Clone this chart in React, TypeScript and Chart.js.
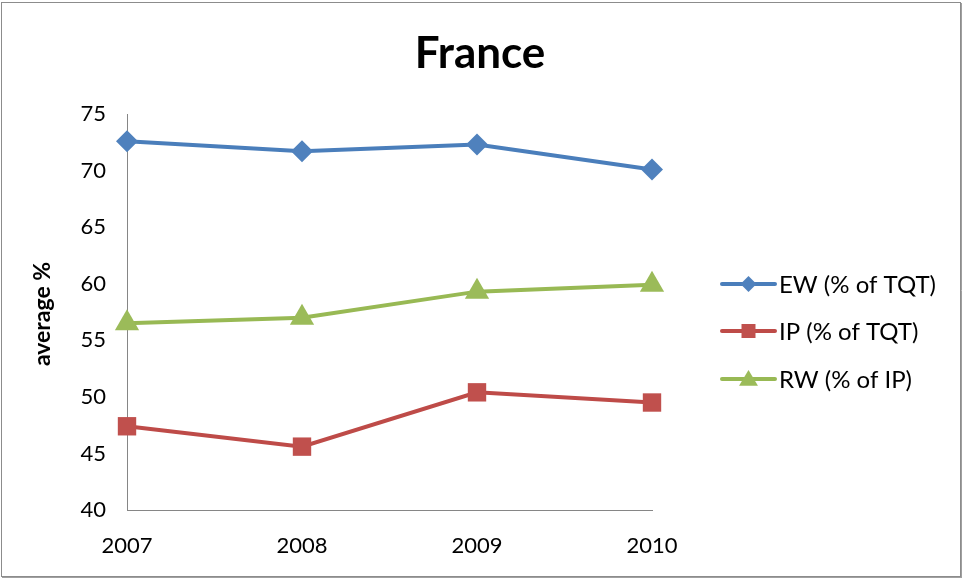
import React, { useEffect, useRef } from "react";
import { Chart, registerables } from "chart.js";

Chart.register(...registerables);

const years = ["2007", "2008", "2009", "2010"];
const ewValues = [72.6, 71.7, 72.3, 70.1];
const ipValues = [47.4, 45.6, 50.4, 49.5];
const rwValues = [56.5, 57.0, 59.3, 59.9];
const yTicks = [40, 45, 50, 55, 60, 65, 70, 75];
const seriesLabels = ["EW (% of TQT)", "IP (% of TQT)", "RW (% of IP)"];
const chartTitle = "France";
const yAxisTitle = "average %";

const BLUE = "#4A7EBB";
const RED = "#BE4B48";
const GREEN = "#98B954";
const BLUE_M = "#4F81BD";
const RED_M = "#C0504D";
const GREEN_M = "#9BBB59";
const FONT = "Lato, 'Open Sans', sans-serif";

function drawMarker(ctx: CanvasRenderingContext2D, kind: string, x: number, y: number, s: number, color: string) {
  ctx.save();
  ctx.fillStyle = color;
  ctx.beginPath();
  if (kind === "diamond") {
    ctx.moveTo(x, y - s);
    ctx.lineTo(x + s, y);
    ctx.lineTo(x, y + s);
    ctx.lineTo(x - s, y);
  } else if (kind === "square") {
    ctx.rect(x - s, y - s, 2 * s, 2 * s);
  } else {
    ctx.moveTo(x, y - s);
    ctx.lineTo(x + s * 1.05, y + s * 0.75);
    ctx.lineTo(x - s * 1.05, y + s * 0.75);
  }
  ctx.closePath();
  ctx.fill();
  ctx.restore();
}

const decorPlugin = {
  id: "decor",
  afterDraw(chart: any) {
    const ctx: CanvasRenderingContext2D = chart.ctx;
    const area = chart.chartArea;
    ctx.save();
    // border
    ctx.strokeStyle = "#8C8C8C";
    ctx.lineWidth = 1;
    ctx.strokeRect(1.5, 2.5, 959, 574);
    ctx.strokeStyle = "#A0A0A0";
    ctx.beginPath();
    ctx.moveTo(961.5, 3);
    ctx.lineTo(961.5, 578);
    ctx.moveTo(2, 577.5);
    ctx.lineTo(962, 577.5);
    ctx.stroke();

    // title
    ctx.fillStyle = "#000";
    ctx.font = `bold 44px ${FONT}`;
    ctx.textAlign = "center";
    ctx.textBaseline = "alphabetic";
    ctx.fillText(chartTitle, 480, 68);

    // y axis title
    ctx.save();
    ctx.translate(50, (area.top + area.bottom) / 2 + 2);
    ctx.rotate(-Math.PI / 2);
    ctx.font = `bold 23px ${FONT}`;
    ctx.textAlign = "center";
    ctx.textBaseline = "alphabetic";
    ctx.fillText(yAxisTitle, 0, 0);
    ctx.restore();

    // legend
    const items = [
      { label: seriesLabels[0], line: BLUE, fill: BLUE_M, kind: "diamond", s: 8 },
      { label: seriesLabels[1], line: RED, fill: RED_M, kind: "square", s: 7 },
      { label: seriesLabels[2], line: GREEN, fill: GREEN_M, kind: "triangle", s: 9 },
    ];
    const ys = [284, 331, 379];
    items.forEach((it, i) => {
      const y = ys[i];
      ctx.strokeStyle = it.line;
      ctx.lineWidth = 4;
      ctx.lineCap = "round";
      ctx.beginPath();
      ctx.moveTo(722, y);
      ctx.lineTo(775, y);
      ctx.stroke();
      drawMarker(ctx, it.kind, 748.5, y, it.s, it.fill);
      ctx.fillStyle = "#000";
      ctx.font = `24px ${FONT}`;
      ctx.textAlign = "left";
      ctx.textBaseline = "middle";
      ctx.fillText(it.label, 779, y + 1);
    });
    ctx.restore();
  },
};

export default function App() {
  const canvasRef = useRef<HTMLCanvasElement | null>(null);

  useEffect(() => {
    if (!canvasRef.current) return;
    const chart = new Chart(canvasRef.current, {
      type: "line",
      data: {
        labels: years,
        datasets: [
          {
            label: seriesLabels[0],
            data: ewValues,
            borderColor: BLUE,
            backgroundColor: BLUE_M,
            borderWidth: 4,
            pointStyle: "rectRot",
            pointRadius: 11,
            pointBorderWidth: 0,
            pointBackgroundColor: BLUE_M,
            tension: 0,
          },
          {
            label: seriesLabels[1],
            data: ipValues,
            borderColor: RED,
            backgroundColor: RED_M,
            borderWidth: 4,
            pointStyle: "rect",
            pointRadius: 13,
            pointBorderWidth: 0,
            pointBackgroundColor: RED_M,
            tension: 0,
          },
          {
            label: seriesLabels[2],
            data: rwValues,
            borderColor: GREEN,
            backgroundColor: GREEN_M,
            borderWidth: 4,
            pointStyle: "triangle",
            pointRadius: 14,
            pointBorderWidth: 0,
            pointBackgroundColor: GREEN_M,
            tension: 0,
          },
        ],
      },
      options: {
        animation: false,
        responsive: false,
        maintainAspectRatio: false,
        layout: { padding: { top: 114, left: 0, right: 310, bottom: 24 } },
        plugins: {
          legend: { display: false },
          title: { display: false },
          tooltip: { enabled: false },
        },
        scales: {
          x: {
            type: "category",
            offset: false,
            grid: { display: false, drawTicks: false },
            border: { display: true, color: "#868686", width: 1 },
            ticks: {
              color: "#000",
              font: { family: FONT, size: 22 },
              padding: 23,
              maxRotation: 0,
            },
            afterFit: (scale: any) => {
              scale.height = 45;
            },
          },
          y: {
            min: 40,
            max: 75,
            grid: { display: false, drawTicks: false },
            border: { display: true, color: "#868686", width: 1 },
            afterBuildTicks: (scale: any) => {
              scale.ticks = yTicks.map((v) => ({ value: v }));
            },
            ticks: {
              color: "#000",
              font: { family: FONT, size: 22 },
              padding: 21,
            },
            afterFit: (scale: any) => {
              scale.width = 127;
            },
          },
        },
      },
      plugins: [decorPlugin],
    });
    return () => chart.destroy();
  }, []);

  return (
    <div style={{ position: "absolute", left: 0, top: 0, width: 962, height: 579, background: "#fff" }}>
      <canvas ref={canvasRef} width={962} height={579} style={{ width: 962, height: 579, display: "block" }} />
    </div>
  );
}
